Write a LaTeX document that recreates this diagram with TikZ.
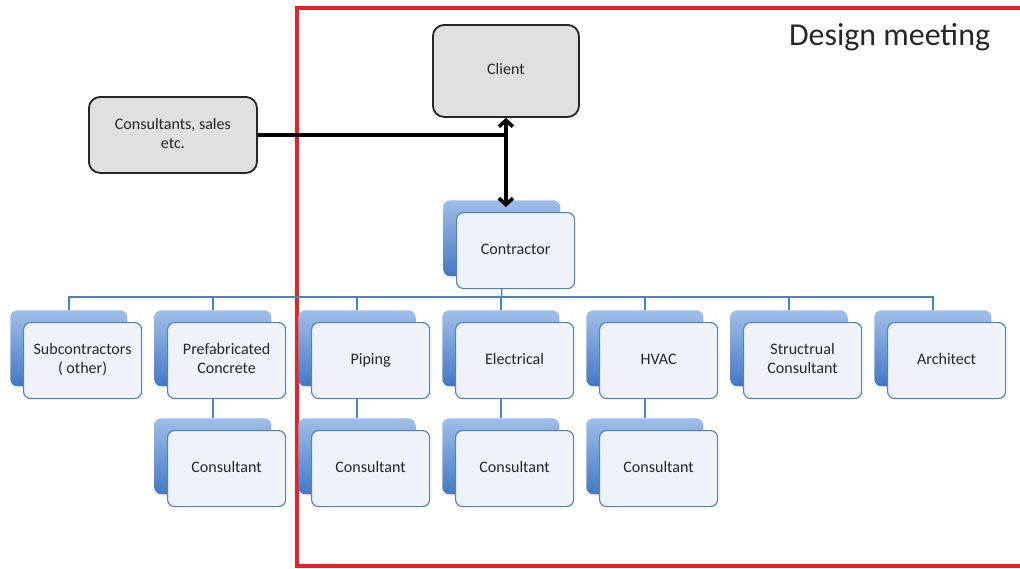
\documentclass[tikz,border=0pt]{standalone}
\usepackage{fontspec}
\setmainfont{Carlito}
\usetikzlibrary{positioning, arrows.meta, calc}
\definecolor{boxBlue}{RGB}{79,129,189}
\definecolor{backTop}{RGB}{160,190,232}
\definecolor{backBot}{RGB}{68,120,196}
\definecolor{frontFill}{RGB}{239,242,249}
\definecolor{greyFill}{RGB}{224,224,224}
\definecolor{frameRed}{RGB}{232,32,42}
\tikzstyle{backBox}=[rounded corners=5pt, minimum width=2.925cm, minimum height=1.9cm,
  top color=backTop, bottom color=backBot, draw=none, anchor=north west]
\tikzstyle{frontBox}=[rounded corners=5pt, minimum width=2.95cm, minimum height=1.9cm,
  fill=frontFill, draw=boxBlue, line width=0.8pt, anchor=north west, align=center,
  text=black!85, font=\fontsize{11.4}{13.6}\selectfont]
\tikzstyle{greyBox}=[rounded corners=8pt, fill=greyFill, draw=black!85, line width=1.3pt,
  anchor=north west, align=center, text=black!85, font=\fontsize{11.4}{13.6}\selectfont]
\tikzstyle{busLine}=[draw=boxBlue, line width=1pt]
\tikzstyle{linkLine}=[draw=black, line width=2.6pt]
\tikzstyle{linkArrow}=[linkLine, {Straight Barb[length=4.5pt,width=10pt]}-{Straight Barb[length=4.5pt,width=10pt]}]
% back box + front box
\newcommand{\orgBox}[4]{%
  \node[backBox] (#1-b) at (#2,#3) {};
  \node[frontBox] (#1) at (#2+13,#3+12) {\strut#4\strut};
}

\begin{document}
\begin{tikzpicture}[x=0.025cm, y=-0.025cm]
      \useasboundingbox (0,0) rectangle (1020,568);
      \draw[frameRed, line width=2.2pt] (1030,8) -| (297,566) -- (1030,566);
      \node[anchor=base east, text=black!85, font=\fontsize{22.7}{26}\selectfont] (title) at (995,45) {Design meeting};

      \node[greyBox, minimum width=3.65cm, minimum height=2.3cm] (client) at (432,24) {\strut Client\strut};
      \node[greyBox, minimum width=4.2cm, minimum height=1.9cm] (sales) at (88,96) {\strut Consultants, sales\\etc.\strut};

      \orgBox{con}{443}{200}{Contractor}
      \orgBox{sub}{10}{310}{Subcontractors\\( other)}
      \orgBox{pre}{154}{310}{Prefabricated\\Concrete}
      \orgBox{pip}{298}{310}{Piping}
      \orgBox{ele}{442}{310}{Electrical}
      \orgBox{hva}{586}{310}{HVAC}
      \orgBox{str}{730}{310}{Structrual\\Consultant}
      \orgBox{arc}{874}{310}{Architect}
      \orgBox{preCon}{154}{418}{Consultant}
      \orgBox{pipCon}{298}{418}{Consultant}
      \orgBox{eleCon}{442}{418}{Consultant}
      \orgBox{hvaCon}{586}{418}{Consultant}

      % bus under the contractor
      \coordinate (bus) at (501.5,297);
      \draw[busLine] (con.south -| con-b.north) -- (bus);
      \foreach \n in {sub,pre,pip,ele,hva,str,arc}
      \draw[busLine] (\n-b.north) |- (bus);
      \foreach \n in {pre,pip,ele,hva}
      \draw[busLine] (\n.south -| \n-b.north) -- (\n Con-b.north);

      \draw[linkLine] (sales.east) -- (sales.east -| client.south);
      \draw[linkArrow] (client.south) -- ($(client.south |- con-b.north)+(0,7)$);
    \end{tikzpicture}
\end{document}
